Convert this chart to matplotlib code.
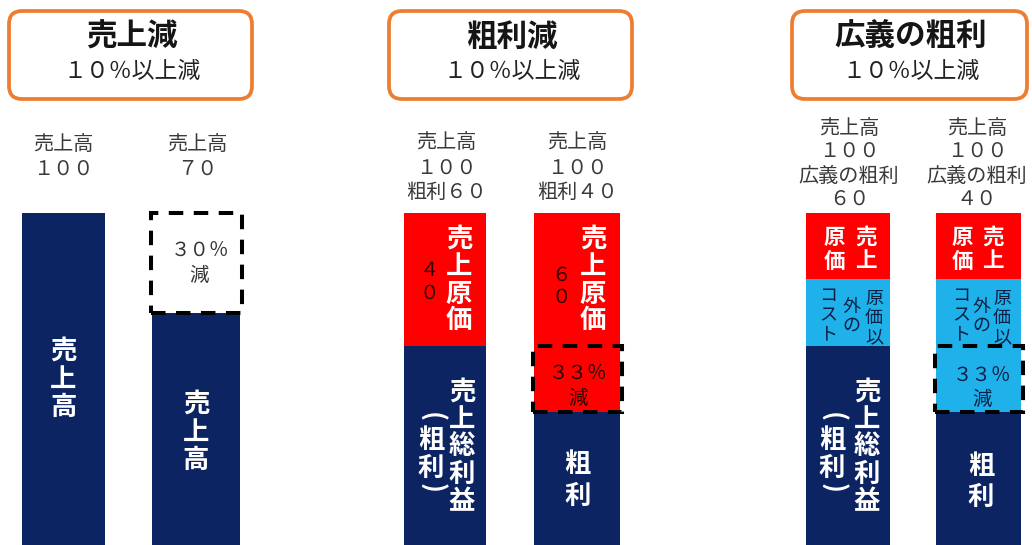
import matplotlib
matplotlib.use("Agg")
import matplotlib.pyplot as plt
from matplotlib.patches import FancyBboxPatch

plt.rcParams['font.family'] = ['Noto Sans CJK JP', 'DejaVu Sans']

# ---------------- data ----------------
panel_titles = ["売上減", "粗利減", "広義の粗利"]
panel_subtitles = ["１０％以上減", "１０％以上減", "１０％以上減"]

# panel 1 : sales
sales = [100, 70]
sales_drop = [0, 30]

# panel 2 : cost of sales / gross profit
p2_cogs = [40, 40]
p2_gp = [60, 40]
p2_gp_drop = [0, 20]

# panel 3 : cost of sales / other costs / broad gross profit
p3_cogs = [20, 20]
p3_other = [20, 20]
p3_gp = [60, 40]
p3_gp_drop = [0, 20]

labels_p1 = [["売上高", "１００"], ["売上高", "７０"]]
labels_p2 = [["売上高", "１００", "粗利６０"], ["売上高", "１００", "粗利４０"]]
labels_p3 = [["売上高", "１００", "広義の粗利", "６０"], ["売上高", "１００", "広義の粗利", "４０"]]
cost_values_p2 = ["４０", "６０"]
drop_texts = ["３０％", "３３％", "３３％"]

# ---------------- layout / style ----------------
W, H = 1032, 545
PX_PER_UNIT = 3.32
NAVY = "#0c2462"
RED = "#fe0000"
LBLUE = "#1eb1ea"
ORANGE = "#ED7D31"

fig = plt.figure(figsize=(W / 100, H / 100), dpi=100)
ax = fig.add_axes([0, 0, 1, 1])
ax.set_xlim(0, W)
ax.set_ylim(0, H / PX_PER_UNIT)
ax.axis("off")

ov = fig.add_axes([0, 0, 1, 1], zorder=5)
ov.set_xlim(0, W)
ov.set_ylim(H, 0)
ov.axis("off")
ov.patch.set_alpha(0)

x_p1 = [63.5, 196]
w_p1 = [83, 88]
x_p2 = [445, 577]
w_p2 = [82, 86]
x_p3 = [848, 978.5]
w_p3 = [84, 85]

DASH = (0, (3.6, 2.6))
DLW = 2.9


def dashed(x, w, bottom, height):
    ax.bar(x, height, w + 3, bottom=bottom, fill=False, edgecolor="black",
           linewidth=DLW, linestyle=DASH, zorder=4)


# panel 1 bars
ax.bar(x_p1, sales, w_p1, color=NAVY, zorder=2)
ax.bar(x_p1[1], sales_drop[1], w_p1[1], bottom=sales[1], color="white", zorder=2)
dashed(x_p1[1], w_p1[1], sales[1], sales_drop[1])

# panel 2 bars
ax.bar(x_p2, p2_gp, w_p2, color=NAVY, zorder=2)
b2 = [g + d for g, d in zip(p2_gp, p2_gp_drop)]
ax.bar(x_p2, p2_gp_drop, w_p2, bottom=p2_gp, color=RED, zorder=2)
ax.bar(x_p2, p2_cogs, w_p2, bottom=b2, color=RED, zorder=2)
dashed(x_p2[1], w_p2[1], p2_gp[1], p2_gp_drop[1])

# panel 3 bars
ax.bar(x_p3, p3_gp, w_p3, color=NAVY, zorder=2)
ax.bar(x_p3, p3_gp_drop, w_p3, bottom=p3_gp, color=LBLUE, zorder=2)
b3 = [g + d for g, d in zip(p3_gp, p3_gp_drop)]
ax.bar(x_p3, p3_other, w_p3, bottom=b3, color=LBLUE, zorder=2)
b3b = [b + o for b, o in zip(b3, p3_other)]
ax.bar(x_p3, p3_cogs, w_p3, bottom=b3b, color=RED, zorder=2)
dashed(x_p3[1], w_p3[1], p3_gp[1], p3_gp_drop[1])

# ---------------- headers ----------------
boxes = [(9, 252), (389, 632), (792, 1027)]
for (x0, x1), t, s in zip(boxes, panel_titles, panel_subtitles):
    ov.add_patch(FancyBboxPatch((x0, 11), x1 - x0, 88,
                                boxstyle="round,pad=0,rounding_size=13",
                                facecolor="white", edgecolor=ORANGE, linewidth=2.7))
    cx = (x0 + x1) / 2 + 1
    ov.text(cx, 37, t, ha="center", va="center", fontsize=22, fontweight="bold", color="#151515")
    ov.text(cx, 71, s, ha="center", va="center", fontsize=16.5, color="#222222")

# ---------------- labels above bars ----------------
LBL = "#3a3a3a"
for xs, labs, ys in [([63, 197], labels_p1, [144, 169]),
                     ([446, 577], labels_p2, [143, 168, 192]),
                     ([849, 977], labels_p3, [128, 151, 176, 199])]:
    for x, lab in zip(xs, labs):
        for line, y in zip(lab, ys):
            ov.text(x, y, line, ha="center", va="center", fontsize=14.5, color=LBL)


def vtext(x, ys, s, **kw):
    for c, y in zip(s, ys):
        if c in "（）":
            ov.text(x, y, "(" if c == "（" else ")", ha="center", va="center",
                    rotation=-90, **kw)
        else:
            ov.text(x, y, c, ha="center", va="center", **kw)


WB = dict(color="white", fontweight="bold", fontsize=19)
Y4 = [239, 266, 294, 321]
Y5 = [392, 419, 446, 474, 502]
YP = [417, 441, 468, 488]

# panel 1 texts
vtext(63.5, [351, 379, 407], "売上高", **WB)
vtext(196, [404, 432, 460], "売上高", **WB)
ov.text(200, 250, drop_texts[0], ha="center", va="center", fontsize=14, color="#333333")
ov.text(199, 275, "減", ha="center", va="center", fontsize=14, color="#333333")

# panel 2 texts
DARK = "#2a0000"
vtext(459, Y4, "売上原価", **WB)
vtext(429, [271, 293], cost_values_p2[0], fontsize=14, color=DARK)
vtext(462, Y5, "売上総利益", **WB)
vtext(431, YP, "（粗利）", **WB)
vtext(593, Y4, "売上原価", **WB)
vtext(561, [275, 297], cost_values_p2[1], fontsize=14, color=DARK)
ov.text(578, 373, drop_texts[1], ha="center", va="center", fontsize=14, color=DARK)
ov.text(578, 398, "減", ha="center", va="center", fontsize=14, color=DARK)
vtext(577.5, [465, 496], "粗利", **WB)

# panel 3 texts
WS = dict(color="white", fontweight="bold", fontsize=15.5)
LB = dict(color="#0d1f45", fontsize=13)
for xr, xl in [(866, 834), (993, 962)]:
    vtext(xr, [237, 261], "売上", **WS)
    vtext(xl, [237, 261], "原価", **WS)
for xr, xm, xl in [(874, 851, 828), (1002, 981, 961)]:
    vtext(xr, [299, 318, 337], "原価以", **LB)
    vtext(xm, [307, 326], "外の", **LB)
    vtext(xl, [296, 315, 334], "コスト", **LB)
vtext(867, Y5, "売上総利益", **WB)
vtext(832, YP, "（粗利）", **WB)
ov.text(982, 375, drop_texts[2], ha="center", va="center", fontsize=14, color="#0d1f45")
ov.text(982, 399, "減", ha="center", va="center", fontsize=14, color="#0d1f45")
vtext(981, [467, 497], "粗利", **WB)

fig.savefig("out.png", dpi=100)
